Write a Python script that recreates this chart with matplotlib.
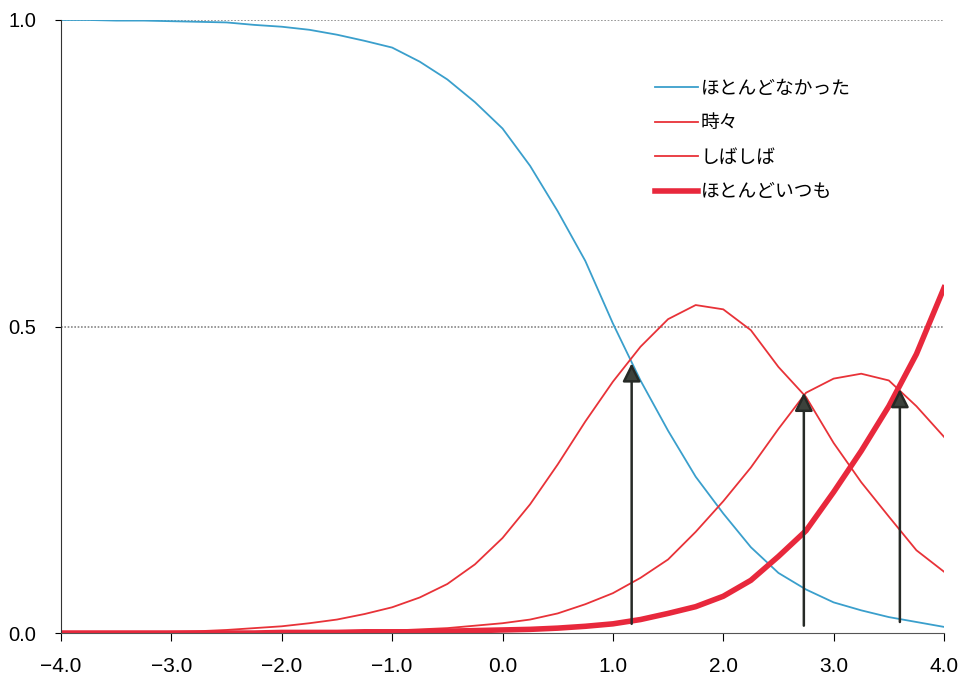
import numpy as np
import matplotlib
matplotlib.use("Agg")
from matplotlib import pyplot as plt

# theta grid and category response curves
theta = np.arange(-4.0, 4.01, 0.25)

p_never = [1.0, 1.0, 0.999, 0.999, 0.998, 0.997, 0.996, 0.992, 0.989,
           0.984, 0.976, 0.966, 0.955, 0.932, 0.903, 0.866, 0.823, 0.762,
           0.688, 0.607, 0.505, 0.412, 0.33, 0.255, 0.195, 0.14, 0.098,
           0.071, 0.05, 0.037, 0.026, 0.018, 0.01]
p_sometimes = [0.0, 0.0, 0.001, 0.001, 0.002, 0.003, 0.005, 0.008, 0.011,
               0.016, 0.022, 0.031, 0.042, 0.058, 0.08, 0.112, 0.155, 0.21,
               0.275, 0.345, 0.41, 0.467, 0.512, 0.535, 0.528, 0.494, 0.434,
               0.385, 0.31, 0.246, 0.19, 0.135, 0.10]
p_often = [0.0, 0.0, 0.0, 0.0, 0.0, 0.0, 0.001, 0.001, 0.001,
           0.002, 0.002, 0.003, 0.004, 0.006, 0.008, 0.012, 0.016, 0.022,
           0.032, 0.047, 0.065, 0.09, 0.12, 0.165, 0.215, 0.27, 0.333,
           0.392, 0.415, 0.423, 0.412, 0.37, 0.32]
p_always = [0.0, 0.0, 0.0, 0.0, 0.0, 0.0, 0.0, 0.0, 0.001,
            0.001, 0.001, 0.002, 0.002, 0.002, 0.003, 0.004, 0.005, 0.006,
            0.008, 0.011, 0.015, 0.022, 0.032, 0.043, 0.06, 0.086, 0.125,
            0.167, 0.23, 0.297, 0.37, 0.455, 0.563]

labels = ["ほとんどなかった", "時々", "しばしば", "ほとんどいつも"]

# thresholds marked with arrows
arrow_x = [1.17, 2.73, 3.60]
arrow_top = [0.44, 0.392, 0.398]
arrow_bottom = [0.015, 0.012, 0.018]

xticks = [-4.0, -3.0, -2.0, -1.0, 0.0, 1.0, 2.0, 3.0, 4.0]
yticks = [0.0, 0.5, 1.0]

plt.rcParams['font.family'] = ['Liberation Sans', 'Noto Sans CJK JP', 'DejaVu Sans']

fig = plt.figure(figsize=(9.58, 6.82), dpi=100)
ax = fig.add_axes([0.0637, 0.0718, 0.9217, 0.8989])

blue = "#3a9fcc"
red = "#e83238"

ax.plot(theta, p_never, color=blue, lw=1.3, label=labels[0])
ax.plot(theta, p_sometimes, color=red, lw=1.3, label=labels[1])
ax.plot(theta, p_often, color=red, lw=1.3, label=labels[2])
ax.plot(theta, p_always, color="#e8283c", lw=4, label=labels[3])

for xa, yt, yb in zip(arrow_x, arrow_top, arrow_bottom):
    ax.annotate("", xy=(xa, yt), xytext=(xa, yb),
                arrowprops=dict(arrowstyle="-|>,head_width=0.55,head_length=1.1",
                                lw=1.8, color="#262a26", fc="#3c423c",
                                shrinkA=0, shrinkB=0))

for yv in [0.5, 1.0]:
    ax.axhline(yv, color="#888888", lw=1.2, ls=(0, (1, 1)), zorder=0)

ax.set_xlim(-4, 4)
ax.set_ylim(0, 1)
ax.set_xticks(xticks)
ax.set_xticklabels([("%.1f" % v).replace("-", "\u2212") for v in xticks])
ax.set_yticks(yticks)
ax.set_yticklabels(["%.1f" % v for v in yticks])
ax.tick_params(axis="x", direction="out", length=6, width=0.8, labelsize=15, pad=11)
ax.tick_params(axis="y", direction="out", length=4, width=0.8, labelsize=14.5, pad=14)

for s in ["top", "right"]:
    ax.spines[s].set_visible(False)
ax.spines["bottom"].set_linestyle((0, (1, 1)))
ax.spines["bottom"].set_color("#555555")
ax.spines["left"].set_color("#333333")

leg = ax.legend(loc="upper left", bbox_to_anchor=(0.664, 0.918), frameon=False,
                prop={"family": ["Noto Sans CJK JP", "DejaVu Sans"], "size": 13.5},
                handlelength=2.3, handletextpad=0.15, labelspacing=0.72,
                borderaxespad=0)

fig.savefig("out.png", dpi=100)
